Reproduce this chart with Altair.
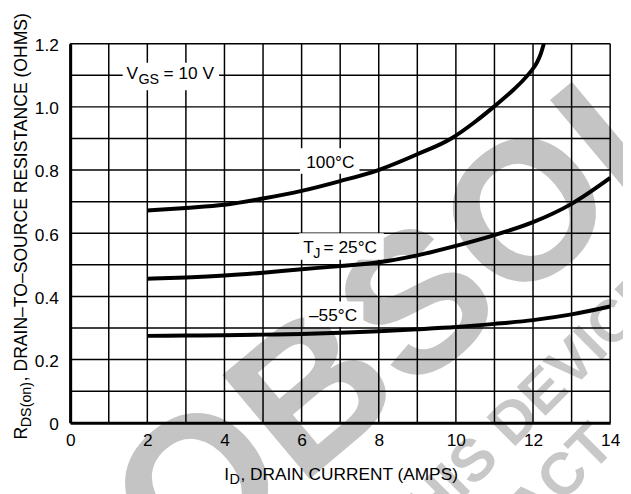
import altair as alt
import pandas as pd

FONT = "Liberation Sans"

# ---------------- data ----------------
x_ticks = [0, 2, 4, 6, 8, 10, 12, 14]
y_ticks = [0.0, 0.2, 0.4, 0.6, 0.8, 1.0, 1.2]
grid_x = [0, 1, 2, 3, 4, 5, 6, 7, 8, 9, 10, 11, 12, 13, 14]
grid_y = [0.0, 0.1, 0.2, 0.3, 0.4, 0.5, 0.6, 0.7, 0.8, 0.9, 1.0, 1.1, 1.2]

t100_x = [2, 3, 4, 5, 6, 7, 7.99, 9, 9.88, 10.5, 10.98, 11.5, 11.75, 11.95, 12.1, 12.2, 12.28]
t100_y = [0.672, 0.68, 0.69, 0.71, 0.734, 0.765, 0.80, 0.85, 0.90, 0.953, 1.0, 1.055, 1.085, 1.113, 1.14, 1.168, 1.2]

t25_x = [2, 3, 4, 5, 6, 7, 8, 9, 10, 11, 12, 13, 14]
t25_y = [0.456, 0.46, 0.466, 0.475, 0.486, 0.496, 0.508, 0.53, 0.56, 0.594, 0.635, 0.693, 0.775]

tm55_x = [2, 3, 4, 5, 6, 7, 8, 9, 10, 11, 12, 13, 14]
tm55_y = [0.275, 0.276, 0.277, 0.279, 0.281, 0.285, 0.29, 0.296, 0.303, 0.313, 0.325, 0.343, 0.368]

# annotation label pieces (data coordinates)
lab_text = ["V", "GS", "= 10 V", "100°C", "T", "J", "= 25°C", "–55°C"]
lab_x = [1.46, 1.77, 2.42, 6.12, 6.04, 6.30, 6.57, 6.19]
lab_y = [1.0875, 1.0719, 1.0875, 0.806, 0.5375, 0.522, 0.5375, 0.322]
lab_size = [17.5, 14.5, 17.5, 17.5, 17.5, 14.5, 17.5, 17.5]

# white boxes behind labels (data coordinates)
box_x1 = [1.36, 5.96, 5.93, 6.07]
box_x2 = [3.86, 7.50, 8.13, 7.60]
box_y1 = [1.053, 0.788, 0.516, 0.303]
box_y2 = [1.140, 0.869, 0.600, 0.384]

# ---------------- frames ----------------
curves = pd.concat([
    pd.DataFrame({"x": t100_x, "y": t100_y, "s": "100"}),
    pd.DataFrame({"x": t25_x, "y": t25_y, "s": "25"}),
    pd.DataFrame({"x": tm55_x, "y": tm55_y, "s": "-55"}),
])
labels = pd.DataFrame({"x": lab_x, "y": lab_y, "t": lab_text, "size": lab_size})
boxes = pd.DataFrame({"x1": box_x1, "x2": box_x2, "y1": box_y1, "y2": box_y2})

xs = alt.Scale(domain=[0, 14], nice=False)
ys = alt.Scale(domain=[0, 1.2], nice=False)

# ---------------- watermark ----------------
wm_big = alt.Chart(pd.DataFrame({"t": ["OBSOLETE"]})).mark_text(
    font="Liberation Sans", fontWeight="bold", fontSize=200, angle=320,
    align="center", baseline="middle", color="#c4c4c4"
).encode(x=alt.value(496), y=alt.value(150), text="t:N")

wm_small = alt.Chart(pd.DataFrame({
    "t": ["THIS DEVICE IS NO LONGER", "CONTACT"],
    "px": [327, 337], "py": [506, 601]})).mark_text(
    font="Liberation Sans", fontWeight="bold", fontSize=60, angle=315,
    align="left", baseline="middle", color="#c8c8c8"
).encode(x=alt.X("px:Q", scale=None), y=alt.Y("py:Q", scale=None), text="t:N")

# ---------------- grid ----------------
vgrid = alt.Chart(pd.DataFrame({"x": grid_x})).mark_rule(
    color="black", strokeWidth=1.5).encode(
    x=alt.X("x:Q", scale=xs, axis=alt.Axis(
        values=x_ticks, title=None, grid=False, ticks=False, zindex=1,
        domainWidth=3, domainColor="black", labelFont=FONT, labelFontSize=17.5,
        labelColor="black", labelPadding=9, labelFlush=False)))

hgrid = alt.Chart(pd.DataFrame({"y": grid_y})).mark_rule(
    color="black", strokeWidth=1.5).encode(
    y=alt.Y("y:Q", scale=ys, axis=alt.Axis(
        values=y_ticks, title=None, grid=False, ticks=False, zindex=1,
        domainWidth=3, domainColor="black", labelFont=FONT, labelFontSize=17.5,
        labelColor="black", labelPadding=12, labelFlush=False, labelOffset=2,
        labelExpr="datum.value == 0 ? '0' : format(datum.value, '.1f')")))

box_layer = alt.Chart(boxes).mark_rect(color="white").encode(
    x=alt.X("x1:Q", scale=xs), x2="x2:Q",
    y=alt.Y("y1:Q", scale=ys), y2="y2:Q")

line_layer = alt.Chart(curves).mark_line(
    color="black", strokeWidth=4, interpolate="monotone").encode(
    x=alt.X("x:Q", scale=xs), y=alt.Y("y:Q", scale=ys), detail="s:N")

label_layer = alt.Chart(labels).mark_text(
    font=FONT, align="left", baseline="alphabetic", color="black").encode(
    x=alt.X("x:Q", scale=xs), y=alt.Y("y:Q", scale=ys), text="t:N",
    size=alt.Size("size:Q", scale=None, legend=None))

# ---------------- axis titles (with subscripts) ----------------
xt = alt.Chart(pd.DataFrame({
    "t": ["I", "D", ", DRAIN CURRENT (AMPS)"],
    "px": [156, 161.5, 172.5], "py": [442, 446, 442], "size": [17.5, 14.5, 17.5]})).mark_text(
    font=FONT, align="left", baseline="alphabetic", color="black").encode(
    x=alt.X("px:Q", scale=None), y=alt.Y("py:Q", scale=None), text="t:N",
    size=alt.Size("size:Q", scale=None, legend=None))

yt = alt.Chart(pd.DataFrame({
    "t": ["R", "DS(on)", ", DRAIN–TO–SOURCE RESISTANCE (OHMS)"],
    "px": [-44, -40, -44], "py": [401, 388.5, 342], "size": [17.8, 14.5, 17.8]})).mark_text(
    font=FONT, align="left", baseline="alphabetic", angle=270, color="black").encode(
    x=alt.X("px:Q", scale=None), y=alt.Y("py:Q", scale=None), text="t:N",
    size=alt.Size("size:Q", scale=None, legend=None))

chart = alt.layer(
    wm_big, wm_small, vgrid, hgrid, box_layer, line_layer, label_layer, xt, yt
).properties(
    width=547, height=384,
    autosize=alt.AutoSizeParams(type="none"),
    padding={"left": 63, "top": 33, "right": 13, "bottom": 69},
    background="white",
).configure_view(stroke=None)

chart.save("out.html", embed_options={"renderer": "svg", "actions": False})
